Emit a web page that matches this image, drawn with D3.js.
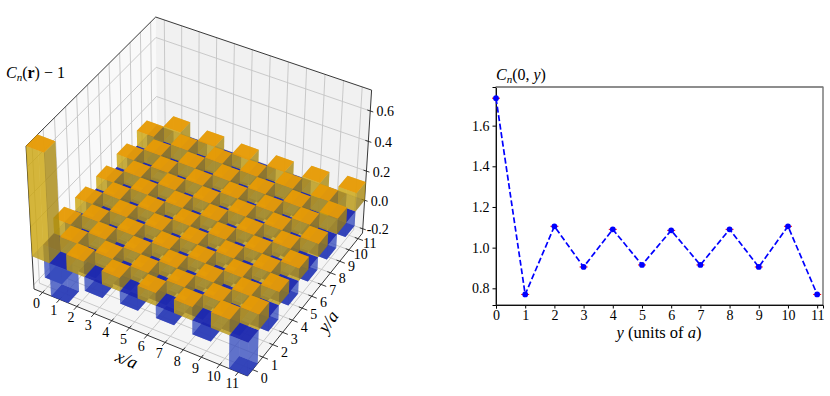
<!DOCTYPE html>
<html>
<head>
<meta charset="utf-8">
<script src="https://cdn.jsdelivr.net/npm/d3@7"></script>
<style>
  body { margin: 0; background: #fff; }
  text { font-family: "Liberation Serif", serif; fill: #000; }
</style>
</head>
<body>
<div id="container"></div>
<script>
let w = 830;
let h = 396;

// C_n(x,y) - 1, rows are x = 0..11, columns y = 0..11
let barValues = [
  [0.735, -0.23, 0.105, -0.095, 0.09, -0.085, 0.085, -0.085, 0.09, -0.095, 0.105, -0.23],
  [-0.23, 0.10, -0.09, 0.09, -0.08, 0.09, -0.08, 0.09, -0.08, 0.09, -0.09, 0.105],
  [0.105, -0.09, 0.095, -0.08, 0.09, -0.075, 0.09, -0.08, 0.09, -0.085, 0.095, -0.095],
  [-0.095, 0.09, -0.08, 0.09, -0.075, 0.09, -0.075, 0.09, -0.08, 0.09, -0.085, 0.09],
  [0.09, -0.08, 0.09, -0.075, 0.09, -0.075, 0.09, -0.075, 0.09, -0.08, 0.09, -0.085],
  [-0.085, 0.09, -0.075, 0.09, -0.075, 0.09, -0.075, 0.09, -0.075, 0.09, -0.08, 0.085],
  [0.085, -0.08, 0.09, -0.075, 0.09, -0.075, 0.09, -0.075, 0.09, -0.075, 0.09, -0.085],
  [-0.085, 0.09, -0.08, 0.09, -0.075, 0.09, -0.075, 0.09, -0.08, 0.09, -0.085, 0.09],
  [0.09, -0.08, 0.09, -0.08, 0.09, -0.075, 0.09, -0.08, 0.09, -0.08, 0.095, -0.095],
  [-0.095, 0.09, -0.085, 0.09, -0.08, 0.09, -0.075, 0.09, -0.08, 0.09, -0.09, 0.105],
  [0.105, -0.09, 0.095, -0.085, 0.09, -0.08, 0.09, -0.085, 0.095, -0.09, 0.10, -0.10],
  [-0.23, 0.105, -0.095, 0.09, -0.085, 0.085, -0.085, 0.09, -0.095, 0.105, -0.10, 0.125]
];
let gridTicks = [0, 1, 2, 3, 4, 5, 6, 7, 8, 9, 10, 11];
let zTicks = [-0.2, 0, 0.2, 0.4, 0.6];
let zTickLabels = ["-0.2", "0.0", "0.2", "0.4", "0.6"];

let cutY = [0, 1, 2, 3, 4, 5, 6, 7, 8, 9, 10, 11];
let cutValues = [1.735, 0.77, 1.105, 0.905, 1.09, 0.915, 1.085, 0.915, 1.09, 0.905, 1.105, 0.77];
let cutTicks = [0.8, 1.0, 1.2, 1.4, 1.6];

let viz = d3.select("#container")
  .append("svg")
  .attr("width", w)
  .attr("height", h)
  ;

// ---- 3d panel ----
let xUnit = d3.scaleLinear().domain([-0.5, 11.5]).range([0, 1]);
let yUnit = d3.scaleLinear().domain([-0.5, 11.5]).range([0, 1]);
let zUnit = d3.scaleLinear().domain([-0.23, 0.735]).range([0, 1]);

// camera fitted on the corners of the box
function depth(x, y, z) {
  return 1 - 0.045 * xUnit(x) + 0.065 * yUnit(y) - 0.05 * zUnit(z);
}
function proj(x, y, z) {
  let u = xUnit(x), v = yUnit(y), t = zUnit(z);
  let d = depth(x, y, z);
  return [
    (202.4 * u + 133.35 * v - 9.3 * t + 34) / d,
    (70.1 * u - 121.4 * v - 150.3 * t + 289) / d
  ];
}

let x0 = -0.5, x1 = 11.5, y0 = -0.5, y1 = 11.5;
let z0 = zUnit.domain()[0], z1 = zUnit.domain()[1];
let line = d3.line();

let panes = [
  { pts: [proj(x0, y0, z0), proj(x0, y1, z0), proj(x0, y1, z1), proj(x0, y0, z1)], fill: "#f9f9f9" },
  { pts: [proj(x0, y1, z0), proj(x1, y1, z0), proj(x1, y1, z1), proj(x0, y1, z1)], fill: "#f1f1f1" },
  { pts: [proj(x0, y0, z0), proj(x1, y0, z0), proj(x1, y1, z0), proj(x0, y1, z0)], fill: "#f5f5f5" }
];
viz.append("g").selectAll("path").data(panes).join("path")
  .attr("d", d => line(d.pts) + "Z")
  .attr("fill", d => d.fill);

let gridLines = [];
gridTicks.forEach(t => {
  gridLines.push([proj(t, y0, z0), proj(t, y1, z0), proj(t, y1, z1)]);
  gridLines.push([proj(x1, t, z0), proj(x0, t, z0), proj(x0, t, z1)]);
});
zTicks.forEach(t => {
  gridLines.push([proj(x0, y0, t), proj(x0, y1, t), proj(x1, y1, t)]);
});
viz.append("g").selectAll("path").data(gridLines).join("path")
  .attr("d", d => line(d))
  .attr("fill", "none")
  .attr("stroke", "#c4c4c4")
  .attr("stroke-width", 0.9);

let frame = [
  proj(x0, y0, z0), proj(x0, y0, z1), proj(x0, y1, z1), proj(x1, y1, z1),
  proj(x1, y1, z0), proj(x1, y0, z0), proj(x0, y0, z0)
];
viz.append("path").attr("d", line(frame)).attr("fill", "none").attr("stroke", "#222").attr("stroke-width", 0.9);

// axis ticks and tick labels
let tickG = viz.append("g");
gridTicks.forEach(t => {
  let a = proj(t, y0, z0);
  let b = proj(t, y0 - 0.28, z0);
  let c = proj(t, y0 + 0.18, z0);
  tickG.append("line").attr("x1", b[0]).attr("y1", b[1]).attr("x2", c[0]).attr("y2", c[1]).attr("stroke", "#222").attr("stroke-width", 0.9);
  tickG.append("text").attr("x", a[0] - 6).attr("y", a[1] + 16).attr("font-size", 14).attr("text-anchor", "middle").text(t);

  let a2 = proj(x1, t, z0);
  let b2 = proj(x1 + 0.28, t, z0);
  let c2 = proj(x1 - 0.18, t, z0);
  tickG.append("line").attr("x1", b2[0]).attr("y1", b2[1]).attr("x2", c2[0]).attr("y2", c2[1]).attr("stroke", "#222").attr("stroke-width", 0.9);
  tickG.append("text").attr("x", a2[0] + 11.7).attr("y", a2[1] + 13 - t * 0.36).attr("font-size", 14).attr("text-anchor", "middle").text(t);
});
zTicks.forEach((t, i) => {
  let a = proj(x1, y1, t);
  tickG.append("line").attr("x1", a[0] - 3).attr("y1", a[1] - 1).attr("x2", a[0] + 3).attr("y2", a[1] + 1).attr("stroke", "#222").attr("stroke-width", 0.9);
  tickG.append("text").attr("x", a[0] + 15).attr("y", a[1] + 5.5).attr("font-size", 14).attr("text-anchor", "middle").text(zTickLabels[i]);
});

// bars as separate faces, sorted far to near
let posStyle = {
  top: ["#e89b05", 0.92], bottom: ["#82691e", 0.55], front: ["#d1ab0a", 0.55],
  side: ["#a0830e", 0.55], back: ["#be960e", 0.55]
};
let negStyle = {
  top: ["#1c27ae", 0.92], bottom: ["#1c27ae", 0.92], front: ["#3a50c0", 0.55],
  side: ["#3a50c0", 0.55], back: ["#3a50c0", 0.55]
};
let faces = [];
barValues.forEach((row, i) => {
  row.forEach((val, j) => {
    let xa = i - 0.5, xb = i + 0.5, ya = j - 0.5, yb = j + 0.5;
    let za = Math.min(0, val), zb = Math.max(0, val);
    let style = val >= 0 ? posStyle : negStyle;
    let boxFaces = [
      { c: [[xa, ya, zb], [xb, ya, zb], [xb, yb, zb], [xa, yb, zb]], s: style.top },
      { c: [[xa, ya, za], [xb, ya, za], [xb, yb, za], [xa, yb, za]], s: style.bottom },
      { c: [[xa, ya, za], [xb, ya, za], [xb, ya, zb], [xa, ya, zb]], s: style.front },
      { c: [[xb, ya, za], [xb, yb, za], [xb, yb, zb], [xb, ya, zb]], s: style.side },
      { c: [[xa, yb, za], [xb, yb, za], [xb, yb, zb], [xa, yb, zb]], s: style.back },
      { c: [[xa, ya, za], [xa, yb, za], [xa, yb, zb], [xa, ya, zb]], s: style.back }
    ];
    boxFaces.forEach(f => {
      faces.push({
        pts: f.c.map(p => proj(p[0], p[1], p[2])),
        fill: f.s[0],
        op: f.s[1],
        d: d3.mean(f.c, p => depth(p[0], p[1], p[2]))
      });
    });
  });
});
faces.sort((a, b) => b.d - a.d);

viz.append("g").selectAll("path").data(faces).join("path")
  .attr("d", d => line(d.pts) + "Z")
  .attr("fill", d => d.fill)
  .attr("fill-opacity", d => d.op);

// 3d labels
let zLabel = viz.append("text").attr("x", 6).attr("y", 78).attr("font-size", 16);
zLabel.append("tspan").attr("font-style", "italic").text("C");
zLabel.append("tspan").attr("font-style", "italic").attr("font-size", 11).attr("dy", 3).text("n");
zLabel.append("tspan").attr("dy", -3).text("(");
zLabel.append("tspan").attr("font-weight", "bold").text("r");
zLabel.append("tspan").text(") \u2212 1");

viz.append("text").attr("font-size", 18).attr("font-style", "italic").attr("text-anchor", "middle")
  .attr("transform", "translate(124.5,365) rotate(23)").text("x/a");
viz.append("text").attr("font-size", 18).attr("font-style", "italic").attr("text-anchor", "middle")
  .attr("transform", "translate(333,325) rotate(-55)").text("y/a");

// ---- y cut panel ----
let xPadding = 496;
let xRight = 823;
let yTop = 87;
let yBottom = 305;

let xScale = d3.scaleLinear().domain([0, 11.2]).range([xPadding, xRight]);
let yScale = d3.scaleLinear().domain([0.718, 1.79]).range([yBottom, yTop]);

let xAxisGroup = viz.append("g").attr("class", "xaxis");
let xAxis = d3.axisBottom(xScale).tickValues(cutY).tickFormat(d3.format("d")).tickSizeOuter(0).tickSize(3.5).tickPadding(2);
xAxisGroup.call(xAxis);
xAxisGroup.attr("transform", "translate(0, " + yBottom + " )");

let yAxisGroup = viz.append("g").attr("class", "yaxis");
let yAxis = d3.axisLeft(yScale).tickValues(cutTicks).tickFormat(d3.format(".1f")).tickSizeOuter(0).tickSize(3.5).tickPadding(3);
yAxisGroup.call(yAxis);
yAxisGroup.attr("transform", "translate(" + xPadding + ",0)");

viz.selectAll(".xaxis text, .yaxis text")
  .attr("font-family", "Liberation Serif")
  .attr("font-size", 14);

viz.append("rect")
  .attr("x", xPadding)
  .attr("y", yTop)
  .attr("width", xRight - xPadding)
  .attr("height", yBottom - yTop)
  .attr("fill", "none")
  .attr("stroke", "#222")
  .attr("stroke-width", 0.9);
viz.append("line")
  .attr("x1", xPadding)
  .attr("x2", xRight)
  .attr("y1", yTop)
  .attr("y2", yTop)
  .attr("stroke", "#888")
  .attr("stroke-width", 1.4);

// red caps under the points
viz.append("g").selectAll("line").data(cutValues).join("line")
  .attr("x1", (d, i) => xScale(cutY[i]) - 4)
  .attr("x2", (d, i) => xScale(cutY[i]) + 4)
  .attr("y1", d => yScale(d))
  .attr("y2", d => yScale(d))
  .attr("stroke", "red")
  .attr("stroke-width", 1);

let cutLine = d3.line()
  .x((d, i) => xScale(cutY[i]))
  .y(d => yScale(d));
viz.append("path")
  .datum(cutValues)
  .attr("d", cutLine)
  .attr("fill", "none")
  .attr("stroke", "blue")
  .attr("stroke-width", 1.7)
  .attr("stroke-dasharray", "6,2.6");
viz.append("g").selectAll("circle").data(cutValues).join("circle")
  .attr("cx", (d, i) => xScale(cutY[i]))
  .attr("cy", d => yScale(d))
  .attr("r", 2.9)
  .attr("fill", "blue");

let cutTitle = viz.append("text").attr("x", 496).attr("y", 80).attr("font-size", 16);
cutTitle.append("tspan").attr("font-style", "italic").text("C");
cutTitle.append("tspan").attr("font-style", "italic").attr("font-size", 11).attr("dy", 3).text("n");
cutTitle.append("tspan").attr("dy", -3).text("(0, ");
cutTitle.append("tspan").attr("font-style", "italic").text("y");
cutTitle.append("tspan").text(")");

let cutLabel = viz.append("text").attr("x", 659).attr("y", 338).attr("font-size", 16.5).attr("text-anchor", "middle");
cutLabel.append("tspan").attr("font-style", "italic").text("y");
cutLabel.append("tspan").text(" (units of ");
cutLabel.append("tspan").attr("font-style", "italic").text("a");
cutLabel.append("tspan").text(")");
</script>
</body>
</html>
